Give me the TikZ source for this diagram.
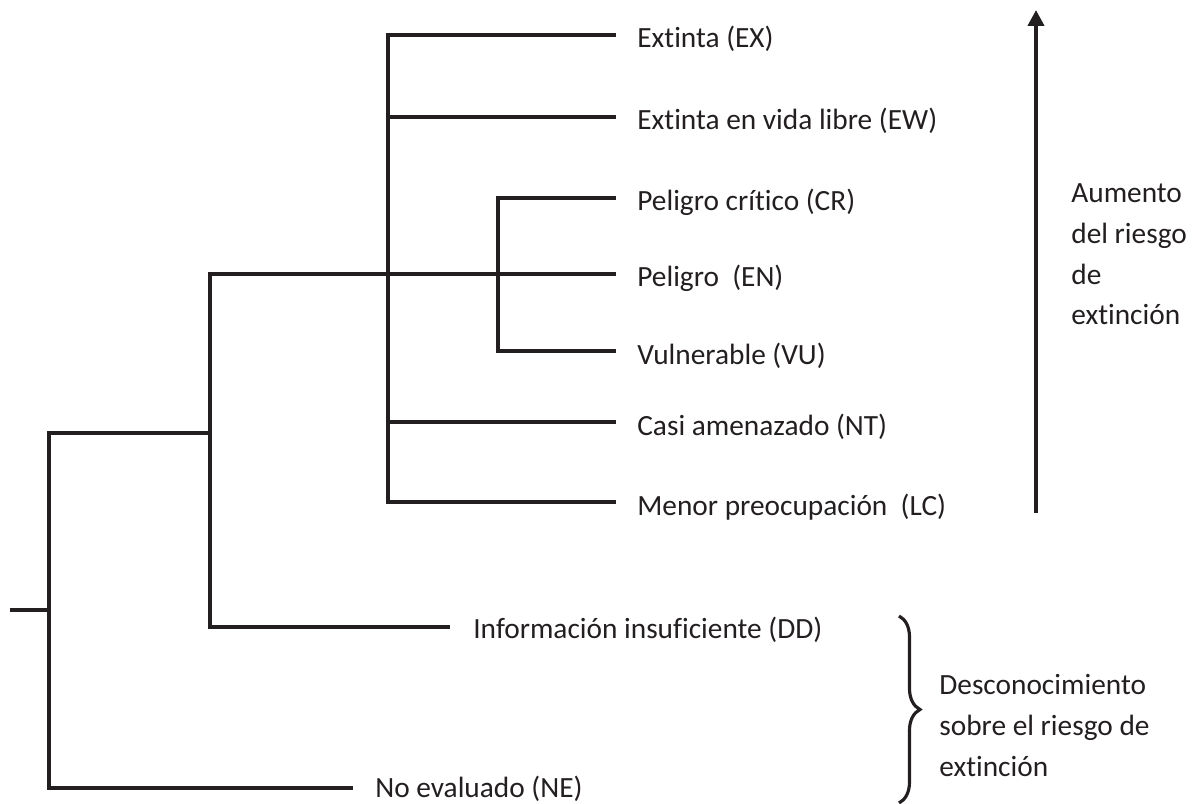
\documentclass[tikz,border=0pt]{standalone}
\usepackage{fontspec}
\setmainfont{Carlito}[Ligatures=NoCommon]
\usepackage{tikz}
\usetikzlibrary{arrows.meta,decorations.pathreplacing}
\definecolor{ink}{HTML}{231F20}

\begin{document}
\begin{tikzpicture}
      [   x=0.02cm,y=-0.02cm,
          branch/.style={draw=ink,line width=2.2pt},
          leaf/.style={anchor=base west,inner sep=0pt,text=ink,font=\fontsize{16.7}{23.3}\selectfont},
          note/.style={anchor=north west,inner sep=0pt,align=left,text=ink,font=\fontsize{16.7}{23.3}\selectfont},
      ]
          \useasboundingbox (0,0) rectangle (1194,804);
          \coordinate (stub) at (10,610);
          \coordinate (n0) at (49,610);
          \coordinate (n1) at (210,433);
          \coordinate (n2) at (388,274);
          \coordinate (n3) at (498,274);

          \coordinate (ex) at (616,35);
          \coordinate (ew) at (616,117);
          \coordinate (cr) at (616,198);
          \coordinate (en) at (616,274);
          \coordinate (vu) at (616,351);
          \coordinate (nt) at (616,422);
          \coordinate (lc) at (616,502);
          \coordinate (dd) at (450,627);
          \coordinate (ne) at (353,788);

          \draw[branch] (stub) -- (n0);
          \draw[branch] (n1) -| (n0) |- (ne);
          \draw[branch] (en) -| (n1) |- (dd);
          \draw[branch] (ex) -| (n2) |- (lc);
          \draw[branch] (n2 |- ew) -- (ew);
          \draw[branch] (n2 |- nt) -- (nt);
          \draw[branch] (cr) -| (n3) |- (vu);

          \node[leaf] (exlab) at ([shift={(21,13)}]ex) {Extinta (EX)};
          \node[leaf] (ewlab) at ([shift={(21,13)}]ew) {Extinta en vida libre (EW)};
          \node[leaf] (crlab) at ([shift={(21,13)}]cr) {Peligro crítico (CR)};
          \node[leaf] (enlab) at ([shift={(21,13)}]en) {Peligro~~(EN)};
          \node[leaf] (vulab) at ([shift={(21,13)}]vu) {Vulnerable (VU)};
          \node[leaf] (ntlab) at ([shift={(21,13)}]nt) {Casi amenazado (NT)};
          \node[leaf] (lclab) at ([shift={(21,13)}]lc) {Menor preocupación~~(LC)};
          \node[leaf] (ddlab) at ([shift={(23,11)}]dd) {Información insuficiente (DD)};
          \node[leaf] (nelab) at ([shift={(22,9)}]ne) {No evaluado (NE)};

          \coordinate (riskbot) at (1036,513);
          \coordinate (risktop) at (1036,10);
          \draw[branch,-{Triangle[width=0.32cm,length=0.32cm]}] (riskbot) -- (risktop);
          \node[note] (risk) at (1071,183) {Aumento\\del riesgo\\de\\extinción};

          \coordinate (bracetop) at (899,616);
          \coordinate (bracebot) at (899,803);
          \draw[draw=ink,line width=1.8pt,decorate,decoration={brace,amplitude=0.42cm}] (bracetop) -- (bracebot);
          \node[note] (unknown) at (939,674) {Desconocimiento\\sobre el riesgo de\\extinción};
    \end{tikzpicture}
\end{document}
